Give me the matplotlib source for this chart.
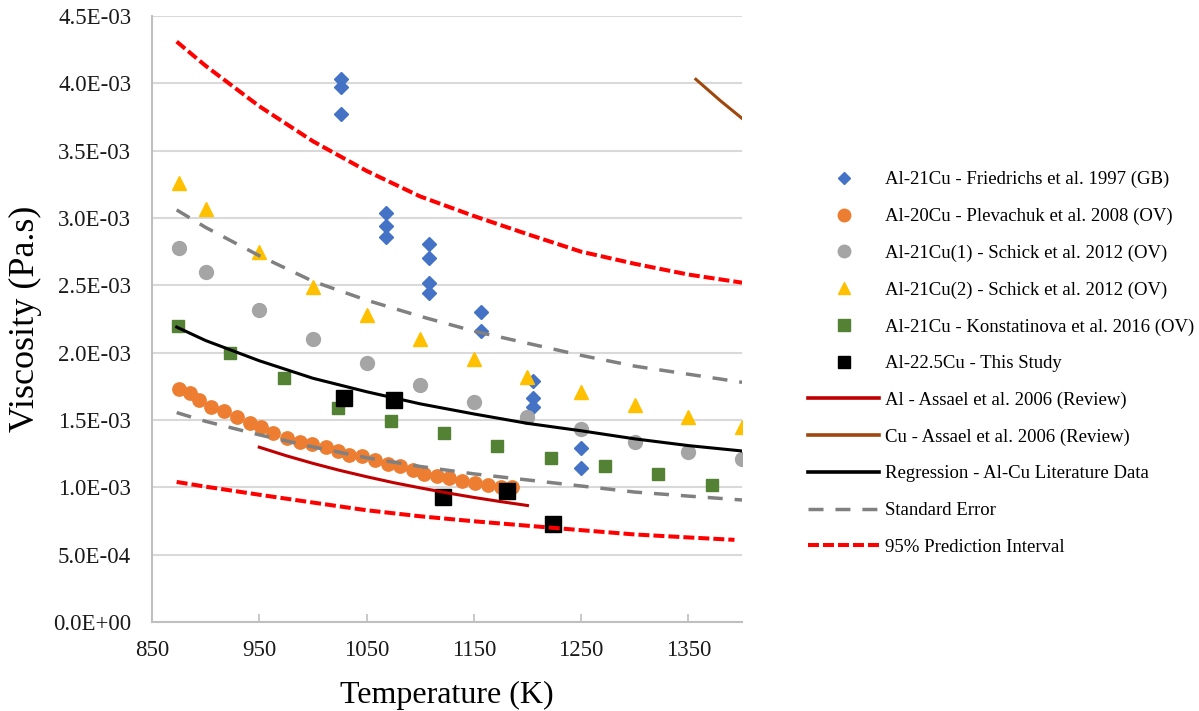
import numpy as np
import matplotlib
matplotlib.use("Agg")
import matplotlib.pyplot as plt
from matplotlib.lines import Line2D
from matplotlib.ticker import FixedLocator, FuncFormatter

plt.rcParams['font.family'] = ['Liberation Serif', 'DejaVu Serif']

MPA = 1e-3  # values below are in mPa.s

# --- measured data -------------------------------------------------------
friedrichs_T = [1026, 1026, 1026, 1068, 1068, 1068, 1108, 1108, 1108, 1108,
                1157, 1157, 1205, 1205, 1205, 1250, 1250]
friedrichs_v = [4.03, 3.97, 3.77, 3.04, 2.94, 2.86, 2.81, 2.70, 2.52, 2.44,
                2.30, 2.16, 1.79, 1.66, 1.60, 1.29, 1.14]

plevachuk_T = [875, 885, 894, 905, 917, 929, 941, 952, 963, 976, 988, 999,
               1012, 1023, 1034, 1046, 1058, 1070, 1081, 1093, 1104, 1116,
               1127, 1139, 1151, 1163, 1175, 1186]
plevachuk_v = [1.73, 1.70, 1.65, 1.60, 1.57, 1.52, 1.48, 1.45, 1.40, 1.37,
               1.34, 1.32, 1.30, 1.27, 1.24, 1.23, 1.20, 1.175, 1.155, 1.13,
               1.10, 1.085, 1.07, 1.045, 1.035, 1.02, 1.00, 1.005]

schick1_T = [875, 900, 950, 1000, 1050, 1100, 1150, 1200, 1250, 1300, 1350, 1400]
schick1_v = [2.78, 2.60, 2.32, 2.10, 1.92, 1.76, 1.63, 1.52, 1.43, 1.34, 1.26, 1.21]

schick2_T = [875, 900, 950, 1000, 1050, 1100, 1150, 1200, 1250, 1300, 1350, 1400]
schick2_v = [3.26, 3.07, 2.75, 2.49, 2.28, 2.10, 1.95, 1.82, 1.71, 1.61, 1.52, 1.45]

konst_T = [874, 923, 973, 1023, 1073, 1122, 1172, 1222, 1272, 1322, 1372]
konst_v = [2.20, 2.00, 1.81, 1.59, 1.49, 1.40, 1.31, 1.22, 1.16, 1.10, 1.02]

study_T = [1029, 1076, 1121, 1181, 1224]
study_v = [1.66, 1.65, 0.93, 0.97, 0.73]

# --- reference / fitted curves -------------------------------------------
al_T = [950, 975, 1000, 1025, 1050, 1075, 1100, 1125, 1150, 1175, 1200]
al_v = [1.298, 1.235, 1.178, 1.126, 1.079, 1.035, 0.996, 0.959, 0.925, 0.894, 0.865]

cu_T = [1357, 1380, 1400]
cu_v = [4.03, 3.87, 3.74]

fit_T = [873, 900, 950, 1000, 1050, 1100, 1150, 1200, 1250, 1300, 1350, 1400]
reg_v = [2.19, 2.09, 1.94, 1.81, 1.71, 1.62, 1.545, 1.475, 1.42, 1.36, 1.31, 1.27]
se_hi = [3.06, 2.93, 2.72, 2.53, 2.39, 2.27, 2.16, 2.07, 1.98, 1.90, 1.84, 1.78]
se_lo = [1.555, 1.49, 1.39, 1.30, 1.22, 1.155, 1.10, 1.055, 1.01, 0.965, 0.935, 0.906]
pi_hi = [4.31, 4.13, 3.83, 3.57, 3.35, 3.16, 3.015, 2.88, 2.75, 2.66, 2.58, 2.52]
pi_lo_T = [873, 900, 950, 1000, 1050, 1100, 1150, 1200, 1250, 1300, 1350, 1393]
pi_lo = [1.04, 1.005, 0.945, 0.887, 0.830, 0.785, 0.748, 0.715, 0.682, 0.650, 0.628, 0.61]

x_ticks = [850, 950, 1050, 1150, 1250, 1350]
y_ticks = [0.0, 0.5, 1.0, 1.5, 2.0, 2.5, 3.0, 3.5, 4.0, 4.5]

labels = [
    "Al-21Cu - Friedrichs et al. 1997 (GB)",
    "Al-20Cu - Plevachuk et al. 2008 (OV)",
    "Al-21Cu(1) - Schick et al. 2012 (OV)",
    "Al-21Cu(2) - Schick et al. 2012 (OV)",
    "Al-21Cu - Konstatinova et al. 2016 (OV)",
    "Al-22.5Cu - This Study",
    "Al - Assael et al. 2006 (Review)",
    "Cu - Assael et al. 2006 (Review)",
    "Regression - Al-Cu Literature Data",
    "Standard Error",
    "95% Prediction Interval",
]

# --- styles ---------------------------------------------------------------
C_BLUE, C_ORANGE, C_GRAY, C_YELLOW = "#4472C4", "#ED7D31", "#A5A5A5", "#FFC000"
C_GREEN, C_ALRED, C_CU, C_SE, C_PI = "#548235", "#C00000", "#9E480E", "#808080", "#FF0000"

PI_LW, SE_LW = 2.9, 2.5
PI_DASH = (7.9 / PI_LW, 2.9 / PI_LW)
SE_DASH = (10.8 / SE_LW, 8.6 / SE_LW)

fig = plt.figure(figsize=(11.99, 7.11), dpi=100)
ax = fig.add_axes([152 / 1199, 89 / 711, 590 / 1199, 606 / 711])

def arr(v):
    return np.asarray(v) * MPA

ax.plot(friedrichs_T, arr(friedrichs_v), ls="none", marker="D", ms=7.2,
        mfc=C_BLUE, mec=C_BLUE, zorder=2)
ax.plot(plevachuk_T, arr(plevachuk_v), ls="none", marker="o", ms=9.6,
        mfc=C_ORANGE, mec=C_ORANGE, zorder=2)
ax.plot(schick1_T, arr(schick1_v), ls="none", marker="o", ms=10,
        mfc=C_GRAY, mec=C_GRAY, zorder=2)
ax.plot(schick2_T, arr(schick2_v), ls="none", marker="^", ms=10.5,
        mfc=C_YELLOW, mec=C_YELLOW, zorder=2)
ax.plot(konst_T, arr(konst_v), ls="none", marker="s", ms=8.4,
        mfc=C_GREEN, mec=C_GREEN, zorder=2)
ax.plot(study_T, arr(study_v), ls="none", marker="s", ms=12.2,
        mfc="black", mec="black", zorder=2)

ax.plot(al_T, arr(al_v), color=C_ALRED, lw=2.2, zorder=3)
ax.plot(cu_T, arr(cu_v), color=C_CU, lw=2.2, zorder=3)
ax.plot(fit_T, arr(reg_v), color="black", lw=2.2, zorder=3)
ax.plot(fit_T, arr(se_hi), color=C_SE, lw=SE_LW, dashes=SE_DASH, zorder=3)
ax.plot(fit_T, arr(se_lo), color=C_SE, lw=SE_LW, dashes=SE_DASH, zorder=3)
ax.plot(fit_T, arr(pi_hi), color=C_PI, lw=PI_LW, dashes=PI_DASH, zorder=3)
ax.plot(pi_lo_T, arr(pi_lo), color=C_PI, lw=PI_LW, dashes=PI_DASH, zorder=3)

# --- axes -----------------------------------------------------------------
ax.set_xlim(850, 1400)
ax.set_ylim(0, 4.5e-3)
ax.xaxis.set_major_locator(FixedLocator(x_ticks))
ax.yaxis.set_major_locator(FixedLocator(arr(y_ticks)))
ax.yaxis.set_major_formatter(FuncFormatter(lambda v, p: "{:.1E}".format(v)))
ax.grid(axis="y", color="#D9D9D9", lw=1.5, zorder=0)
ax.set_axisbelow(True)
for side in ("top", "right"):
    ax.spines[side].set_visible(False)
for side in ("left", "bottom"):
    ax.spines[side].set_color("#BFBFBF")
    ax.spines[side].set_linewidth(1.5)
ax.tick_params(axis="x", direction="in", length=6, width=1.2, color="#BFBFBF",
               labelsize=16.5, pad=13, labelcolor="#1a1a1a")
ax.tick_params(axis="y", length=0, labelsize=16.5, pad=15, labelcolor="#1a1a1a")
ax.set_xlabel("Temperature (K)", fontsize=23, labelpad=14)
ax.set_ylabel("Viscosity (Pa.s)", fontsize=26, labelpad=8)

# --- legend ---------------------------------------------------------------
handles = [
    Line2D([], [], ls="none", marker="D", ms=6, mfc=C_BLUE, mec=C_BLUE),
    Line2D([], [], ls="none", marker="o", ms=9, mfc=C_ORANGE, mec=C_ORANGE),
    Line2D([], [], ls="none", marker="o", ms=9, mfc=C_GRAY, mec=C_GRAY),
    Line2D([], [], ls="none", marker="^", ms=9, mfc=C_YELLOW, mec=C_YELLOW),
    Line2D([], [], ls="none", marker="s", ms=8, mfc=C_GREEN, mec=C_GREEN),
    Line2D([], [], ls="none", marker="s", ms=8, mfc="black", mec="black"),
    Line2D([], [], color=C_ALRED, lw=2.6),
    Line2D([], [], color=C_CU, lw=2.6),
    Line2D([], [], color="black", lw=2.6),
    Line2D([], [], color=C_SE, lw=SE_LW, dashes=SE_DASH),
    Line2D([], [], color=C_PI, lw=PI_LW, dashes=PI_DASH),
]
fig.legend(handles, labels, loc="upper left",
           bbox_to_anchor=(808 / 1199, 1 - 171 / 711),
           frameon=False, fontsize=13.5, handlelength=3.8, handletextpad=0.3,
           labelspacing=1.04, borderpad=0, borderaxespad=0, numpoints=1)

fig.savefig("out.png", dpi=100)
